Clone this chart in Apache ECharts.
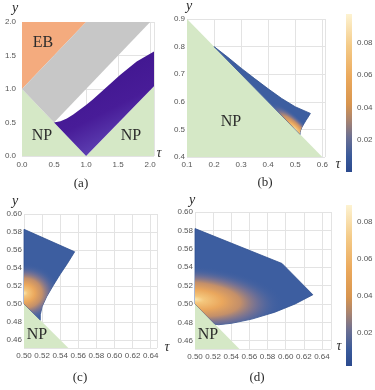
<!DOCTYPE html>
<html><head><meta charset="utf-8">
<script src="https://cdn.jsdelivr.net/npm/echarts@6/dist/echarts.min.js"></script>
<style>html,body{margin:0;padding:0;background:#fff}#c{width:375px;height:390px}</style>
</head><body><div id="c"></div>
<script>
// ---------- Panel (a): regions in (tau, y) ----------
const aOrangeEB   = [[0,1],[0,2],[1,2]];
const aGray       = [[0,1],[1,2],[2,2],[0.5,0.5]];
const aGreenLeft  = [[0,0],[0,1],[0.5,0.5],[1,0]];
const aGreenRight = [[1,0],[2.06,0],[2.06,1.04]];
const aPurpleTop  = [[0.5,0.5],[0.6,0.52],[0.7,0.56],[0.8,0.62],[0.9,0.69],[1.0,0.76],[1.1,0.84],[1.27,0.985],[1.53,1.21],[1.79,1.41],[2.06,1.56]];
const aPurpleLow  = [[2.06,1.04],[1,0]];
// ---------- Panel (b) ----------
const bGreen  = [[0.1,0.9],[0.1,0.4],[0.6,0.4]];
const bUpper  = [[0.2,0.8],[0.25,0.762],[0.3,0.722],[0.35,0.684],[0.4,0.647],[0.45,0.612],[0.5,0.582],[0.556,0.558]];
const tipEdge = [[0.548,0.545],[0.540,0.533],[0.532,0.52],[0.525,0.508],[0.520,0.497],[0.518,0.488],[0.518,0.482]];
const bPeak   = [0.5,0.5];       // hottest point
const bAxis   = [0.405,0.593];   // end of the warm streak
// ---------- Panel (c) ----------
const cGreen  = [[0.5,0.5],[0.5,0.451],[0.549,0.451]];
const cRegion = [[0.5,0.5],[0.5,0.583],[0.556,0.558]].concat(tipEdge);
const cPeak   = [0.5,0.512];
const cAxis   = [0.54,0.512];
// ---------- Panel (d) ----------
const dGreen  = [[0.5,0.5],[0.5,0.451],[0.549,0.451]];
const dRegion = [[0.5,0.5],[0.5,0.582],[0.596,0.544],[0.630,0.510],[0.6105,0.5],[0.588,0.491],[0.5626,0.4835],[0.5405,0.479],[0.526,0.4774],[0.522,0.478]];
const dPeak   = [0.5,0.505];
const dAxis   = [0.6,0.497];
// ---------- colour bars (value ranges) ----------
const cbB = [0, 0.098];
const cbD = [0.002, 0.089];

const bRegion = bUpper.concat(tipEdge);

const LBL = {fontFamily:'Liberation Sans', fontSize:8, color:'#555'};
const SPL = {show:true, lineStyle:{color:'#e3e3e3', width:1}};
const fmt = d => (v => v.toFixed(d));
const C_GREEN = '#d5e8c6', C_ORANGE = '#f4ab7e', C_GRAY = '#c7c7c7';
const heatStops = [
  {offset:0, color:'#fbe6ae'},{offset:0.1, color:'#f4c67c'},{offset:0.3, color:'#eaa75d'},
  {offset:0.5, color:'rgba(214,150,98,0.88)'},{offset:0.68, color:'rgba(150,125,140,0.6)'},
  {offset:0.85, color:'rgba(95,110,160,0.25)'},{offset:1, color:'rgba(59,92,158,0)'}];
const barStops = [
  {offset:0, color:'#fdf3d2'},{offset:0.2, color:'#f4cb88'},{offset:0.4, color:'#eba95c'},
  {offset:0.57, color:'#d8954f'},{offset:0.67, color:'#a98470'},{offset:0.78, color:'#6b6f92'},
  {offset:0.9, color:'#3a5a9a'},{offset:1, color:'#2b4a8e'}];

function polySeries(gi, pts, fill) {
  return {type:'custom', xAxisIndex:gi, yAxisIndex:gi, silent:true, data:[pts[0]],
    renderItem:(p, api) => ({type:'polygon', shape:{points: pts.map(q => api.coord(q))}, style:{fill: fill}})};
}
function purpleSeries() {
  const pts = aPurpleTop.concat(aPurpleLow);
  return {type:'custom', xAxisIndex:0, yAxisIndex:0, silent:true, data:[pts[0]],
    renderItem:(p, api) => {
      const a = api.coord([0.5,1.5]), b = api.coord([1.3,0]);
      return {type:'polygon', shape:{points: pts.map(q => api.coord(q))},
        style:{fill:{type:'linear', x:a[0], y:a[1], x2:b[0], y2:b[1], global:true,
          colorStops:[{offset:0,color:'#3b1289'},{offset:0.65,color:'#481c98'},{offset:1,color:'#6248b8'}]}}};
    }};
}
// warm elliptical glow: major axis from peak to axisEnd, minor/major ratio k
function heatSeries(gi, pts, peak, axisEnd, k) {
  return {type:'custom', xAxisIndex:gi, yAxisIndex:gi, silent:true, data:[pts[0]],
    renderItem:(p, api) => {
      const px = pts.map(q => api.coord(q));
      const c = api.coord(peak), e = api.coord(axisEnd);
      const dx = e[0]-c[0], dy = e[1]-c[1];
      const R = Math.hypot(dx, dy);
      const rad = Math.atan2(-dy, dx);
      const ct = Math.cos(rad), st = Math.sin(rad);
      const fx = (lx, ly) => [ct*lx + st*k*ly, -st*lx + ct*k*ly];
      const fc = fx(c[0], c[1]);
      const tx = c[0]-fc[0], ty = c[1]-fc[1];
      const loc = px.map(q => {
        const wx = q[0]-tx, wy = q[1]-ty;
        const ux = ct*wx - st*wy, uy = st*wx + ct*wy;
        return [ux, uy/k];
      });
      return {type:'group', children:[
        {type:'polygon', shape:{points:px}, style:{fill:'#3d5ea0', stroke:'#2f4f8f', lineWidth:0.8}},
        {type:'polygon', x:tx, y:ty, rotation:rad, scaleX:1, scaleY:k, shape:{points:loc},
          style:{fill:{type:'radial', x:c[0], y:c[1], r:R, global:true, colorStops:heatStops}}}
      ]};
    }};
}
function barSeries(gi, range) {
  return {type:'custom', xAxisIndex:gi, yAxisIndex:gi, silent:true, data:[[0, range[0]]],
    renderItem:(p, api) => {
      const a = api.coord([0, range[1]]), b = api.coord([1, range[0]]);
      return {type:'rect', shape:{x:a[0], y:a[1], width:b[0]-a[0], height:b[1]-a[1]},
        style:{fill:{type:'linear', x:0, y:0, x2:0, y2:1, colorStops:barStops}}};
    }};
}

const grids = [
  {left:22, top:22, width:132, height:134},
  {left:187, top:19, width:138, height:138},
  {left:24, top:214, width:133, height:134},
  {left:195, top:212, width:136, height:137},
  {left:346, top:14, width:6, height:158},
  {left:346, top:205, width:6, height:161}
].map(g => Object.assign({outerBoundsMode:'none', containLabel:false}, g));

const axBase = {type:'value', axisLine:{show:false}, axisTick:{show:false}, splitLine:SPL};
const xAxis = [
  Object.assign({}, axBase, {gridIndex:0, min:0, max:2.06, interval:0.5, axisLabel:Object.assign({}, LBL, {margin:5, formatter:fmt(1), showMaxLabel:false})}),
  Object.assign({}, axBase, {gridIndex:1, min:0.1, max:0.61, interval:0.1, axisLabel:Object.assign({}, LBL, {margin:4, formatter:fmt(1), showMaxLabel:false})}),
  Object.assign({}, axBase, {gridIndex:2, min:0.5, max:0.647, splitNumber:7, axisLabel:Object.assign({}, LBL, {margin:4, formatter:fmt(2), showMaxLabel:false})}),
  Object.assign({}, axBase, {gridIndex:3, min:0.5, max:0.65, splitNumber:7, axisLabel:Object.assign({}, LBL, {margin:4, formatter:fmt(2), showMaxLabel:false})}),
  {type:'value', gridIndex:4, min:0, max:1, show:false},
  {type:'value', gridIndex:5, min:0, max:1, show:false}
];
const yAxis = [
  Object.assign({}, axBase, {gridIndex:0, min:0, max:2, interval:0.5, axisLabel:Object.assign({}, LBL, {margin:6, formatter:fmt(1)})}),
  Object.assign({}, axBase, {gridIndex:1, min:0.4, max:0.9, interval:0.1, axisLabel:Object.assign({}, LBL, {margin:2, formatter:fmt(1)})}),
  Object.assign({}, axBase, {gridIndex:2, min:0.451, max:0.6, splitNumber:7, axisLabel:Object.assign({}, LBL, {margin:2, formatter:fmt(2), showMinLabel:false})}),
  Object.assign({}, axBase, {gridIndex:3, min:0.451, max:0.6, splitNumber:7, axisLabel:Object.assign({}, LBL, {margin:2, formatter:fmt(2), showMinLabel:false})}),
  {type:'value', gridIndex:4, position:'right', min:cbB[0], max:cbB[1], interval:0.02, axisLine:{show:false}, axisTick:{show:false}, splitLine:{show:false},
    axisLabel:Object.assign({}, LBL, {margin:5, formatter:fmt(2), showMinLabel:false, showMaxLabel:false})},
  {type:'value', gridIndex:5, position:'right', min:cbD[0], max:cbD[1], splitNumber:4, axisLine:{show:false}, axisTick:{show:false}, splitLine:{show:false},
    axisLabel:Object.assign({}, LBL, {margin:5, formatter:fmt(2), showMinLabel:false, showMaxLabel:false})}
];

const series = [
  polySeries(0, aGreenLeft, C_GREEN), polySeries(0, aGreenRight, C_GREEN),
  polySeries(0, aOrangeEB, C_ORANGE), polySeries(0, aGray, C_GRAY), purpleSeries(),
  polySeries(1, bGreen, C_GREEN), heatSeries(1, bRegion, bPeak, bAxis, 0.3),
  polySeries(2, cGreen, C_GREEN), heatSeries(2, cRegion, cPeak, cAxis, 0.83),
  polySeries(3, dGreen, C_GREEN), heatSeries(3, dRegion, dPeak, dAxis, 0.37),
  barSeries(4, cbB), barSeries(5, cbD)
];

function txt(x, y, text, font) {
  return {type:'text', x:x, y:y, z:100, silent:true, style:{text:text, font:font, fill:'#2b2b2b', align:'center', verticalAlign:'middle', textAlign:'center', textVerticalAlign:'middle'}};
}
const SER = '"Liberation Serif", serif';
const graphic = {elements:[
  txt(15, 8, 'y', 'italic 14px ' + SER), txt(159, 153, 'τ', 'italic 14px ' + SER),
  txt(189, 6, 'y', 'italic 14px ' + SER), txt(338, 164, 'τ', 'italic 14px ' + SER),
  txt(15, 201, 'y', 'italic 14px ' + SER), txt(167, 347, 'τ', 'italic 14px ' + SER),
  txt(192, 200, 'y', 'italic 14px ' + SER), txt(339, 346, 'τ', 'italic 14px ' + SER),
  txt(43, 43, 'EB', '16px ' + SER), txt(42, 136, 'NP', '16px ' + SER), txt(131, 136, 'NP', '16px ' + SER),
  txt(231, 122, 'NP', '16px ' + SER), txt(37, 335, 'NP', '16px ' + SER), txt(208, 335, 'NP', '16px ' + SER),
  txt(81, 184, '(a)', '13px ' + SER), txt(265, 183, '(b)', '13px ' + SER),
  txt(80, 378, '(c)', '13px ' + SER), txt(257, 378, '(d)', '13px ' + SER)
]};

const chart = echarts.init(document.getElementById('c'));
chart.setOption({animation:false, backgroundColor:'#fff', grid:grids, xAxis:xAxis, yAxis:yAxis, series:series, graphic:graphic});
</script></body></html>
